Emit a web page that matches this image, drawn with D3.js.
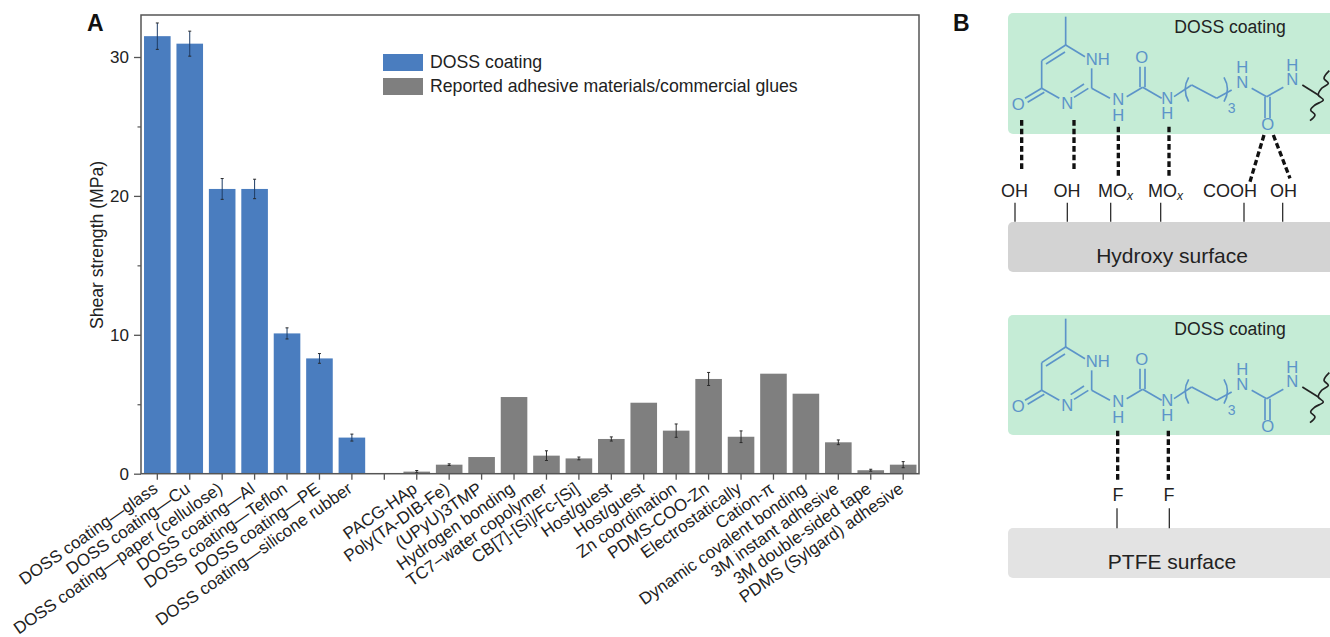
<!DOCTYPE html>
<html><head><meta charset="utf-8">
<script src="https://cdn.jsdelivr.net/npm/d3@7/dist/d3.min.js"></script>
<style>html,body{margin:0;background:#fff}svg{display:block}text{font-family:"Liberation Sans",Arial,sans-serif;fill:#222}</style>
</head><body><svg id="c" width="1330" height="637"></svg>
<script>
const categories = ["DOSS coating—glass","DOSS coating—Cu","DOSS coating—paper (cellulose)","DOSS coating—Al","DOSS coating—Teflon","DOSS coating—PE","DOSS coating—silicone rubber","","PACG-HAp","Poly(TA-DIB-Fe)","(UPyU)3TMP","Hydrogen bonding","TC7−water copolymer","CB[7]-[Si]/Fc-[Si]","Host/guest","Host/guest","Zn coordination","PDMS-COO-Zn","Electrostatically","Cation-π","Dynamic covalent bonding","3M instant adhesive","3M double-sided tape","PDMS (Sylgard) adhesive"];
const values = [31.5,30.96,20.5,20.5,10.1,8.3,2.6,null,0.15,0.65,1.2,5.52,1.3,1.1,2.5,5.11,3.1,6.82,2.66,7.2,5.76,2.26,0.25,0.65];
const errors = [0.95,0.9,0.75,0.7,0.4,0.35,0.25,null,0.08,0.06,0,0,0.35,0.1,0.15,0,0.48,0.47,0.42,0,0,0.17,0.07,0.22];
const doss = [1,1,1,1,1,1,1,0,0,0,0,0,0,0,0,0,0,0,0,0,0,0,0,0];
const yTicksMajor = [0,10,20,30];
const yTicksMinor = [5,15,25];
const legendLabels = ["DOSS coating","Reported adhesive materials/commercial glues"];
const BLUE="#4a7dbf", GRAY="#7f7f7f", AXIS="#555", CHEM="#5c94c9";

const svg=d3.select("#c");
const L=141,R=919,T=15,B=473.7;
const x=d3.scaleBand().domain(d3.range(categories.length)).range([141.1,919.4]).paddingInner(0.18).paddingOuter(0.09);
const y=d3.scaleLinear().domain([0,33]).range([B,B-33*13.89]);

const g=svg.append("g");
const idx=d3.range(categories.length).filter(i=>values[i]!==null);
g.selectAll("rect.bar").data(idx).join("rect").attr("class","bar")
 .attr("x",i=>x(i)).attr("width",x.bandwidth())
 .attr("y",i=>y(values[i])).attr("height",i=>y(0)-y(values[i]))
 .attr("fill",i=>doss[i]?BLUE:GRAY);
const eb=idx.filter(i=>errors[i]>0);
const cx=i=>x(i)+x.bandwidth()/2;
g.selectAll("line.err").data(eb).join("line").attr("x1",cx).attr("x2",cx)
 .attr("y1",i=>y(values[i]-errors[i])).attr("y2",i=>y(values[i]+errors[i]))
 .attr("stroke",i=>doss[i]?"#1d3c66":"#2a2a2a").attr("stroke-width",1);
[-1,1].forEach(s=>g.selectAll("line.cap"+s).data(eb).join("line").attr("class","cap"+s)
 .attr("x1",i=>cx(i)-1.5).attr("x2",i=>cx(i)+1.5)
 .attr("y1",i=>y(values[i]+s*errors[i])).attr("y2",i=>y(values[i]+s*errors[i]))
 .attr("stroke","#2a2a2a").attr("stroke-width",1));

svg.append("rect").attr("x",L).attr("y",T).attr("width",R-L).attr("height",B-T).attr("fill","none").attr("stroke",AXIS).attr("stroke-width",1.5);

const xAxis=d3.axisBottom(x).tickSize(6).tickPadding(4).tickFormat(i=>categories[i]);
const gx=svg.append("g").attr("transform",`translate(0,${B})`).call(xAxis);
gx.select(".domain").remove();
gx.selectAll(".tick line").attr("stroke",AXIS).attr("stroke-width",1.3);
gx.selectAll(".tick text").attr("text-anchor","end").attr("font-size",17).attr("font-family",'"Liberation Sans"')
 .attr("transform","translate(-10,1) rotate(-35)").attr("dy","0.6em");
const yAxis=d3.axisLeft(y).tickValues(yTicksMajor).tickSize(7).tickPadding(5).tickFormat(d3.format("d"));
const gy=svg.append("g").attr("transform",`translate(${L},0)`).call(yAxis);
gy.select(".domain").remove();
gy.selectAll(".tick line").attr("stroke",AXIS).attr("stroke-width",1.3);
gy.selectAll(".tick text").attr("font-size",17).attr("font-family",'"Liberation Sans"');
const gym=svg.append("g").attr("transform",`translate(${L},0)`).call(d3.axisLeft(y).tickValues(yTicksMinor).tickSize(3.5).tickFormat(""));
gym.select(".domain").remove();
gym.selectAll(".tick line").attr("stroke",AXIS).attr("stroke-width",1.2);

svg.append("text").attr("transform","translate(103,245) rotate(-90)").attr("text-anchor","middle").attr("font-size",17.6).text("Shear strength (MPa)");

legendLabels.forEach((t,i)=>{
 svg.append("rect").attr("x",383).attr("y",54+i*24).attr("width",40).attr("height",17).attr("fill",i?GRAY:BLUE);
 svg.append("text").attr("x",430).attr("y",68+i*24).attr("font-size",17.7).text(t);
});
svg.append("text").attr("x",87).attr("y",31).attr("font-size",23).attr("font-weight","bold").style("fill","#111").text("A");
svg.append("text").attr("x",953).attr("y",31).attr("font-size",23).attr("font-weight","bold").style("fill","#111").text("B");

const bonds=[[347,50,347,135],[347,135,405,170],[347,135,275,182],[345,156,288,192],[275,182,275,265],[275,265,328,295],[275,265,225,295],[283,277,233,307],
[372,292,415,265],[362,278,402,252],[425,265,425,205],[425,265,480,295],[530,290,578,262],[570,262,570,200],[585,262,585,200],[578,262,635,295],[672,290,725,255],[725,255,800,295],[800,295,845,270],[905,265,950,290],[950,290,1000,262],[945,290,945,355],[960,290,960,355]];
const atoms=[["NH",443,195],["O",575,190],["O",205,330],["N",352,327],["N",505,315],["H",505,363],["N",652,312],["H",652,358],["N",877,265],["H",877,220],["O",953,391],["N",1027,255],["H",1027,213]];
const wave=[[1138,212],[1122,235],[1135,250],[1115,265],[1105,285],[1120,300],[1095,315],[1082,330],[1095,345],[1080,362]];
const waveLine=d3.line().curve(d3.curveCatmullRom);
function mol(dy){
 const p=svg.append("g").attr("transform",`translate(950,${dy}) scale(${1/3})`);
 p.selectAll("line").data(bonds).join("line").attr("x1",d=>d[0]).attr("y1",d=>d[1]).attr("x2",d=>d[2]).attr("y2",d=>d[3]).attr("stroke",CHEM).attr("stroke-width",5);
 p.selectAll("text.a").data(atoms).join("text").attr("class","a").attr("x",d=>d[1]).attr("y",d=>d[2]).attr("text-anchor","middle").attr("font-size",50).style("fill",CHEM).text(d=>d[0]);
 p.append("path").attr("d","M716,232 Q695,268 716,305").attr("fill","none").attr("stroke",CHEM).attr("stroke-width",5);
 p.append("path").attr("d","M822,232 Q843,268 822,305").attr("fill","none").attr("stroke",CHEM).attr("stroke-width",5);
 p.append("text").attr("x",845).attr("y",338).attr("text-anchor","middle").attr("font-size",42).style("fill",CHEM).text("3");
 p.append("line").attr("x1",1057).attr("y1",255).attr("x2",1105).attr("y2",285).attr("stroke","#222").attr("stroke-width",5);
 p.append("path").attr("d",waveLine(wave)).attr("fill","none").attr("stroke","#222").attr("stroke-width",5);
}
function panel(gTop,gBot,grayTop,grayBot,grayFill,title,titleY){
 svg.append("path").attr("d",`M1330,${gTop}H1013a5,5 0 0 0 -5,5V${gBot-5}a5,5 0 0 0 5,5H1330Z`).attr("fill","#c5ecd6");
 svg.append("path").attr("d",`M1330,${grayTop}H1013a5,5 0 0 0 -5,5V${grayBot-5}a5,5 0 0 0 5,5H1330Z`).attr("fill",grayFill);
 svg.append("text").attr("x",1230).attr("y",titleY).attr("text-anchor","middle").attr("font-size",17.6).text("DOSS coating");
 svg.append("text").attr("x",1172).attr("y",grayTop+41).attr("text-anchor","middle").attr("font-size",21).text(title);
}
panel(13,134,222,272,"#d3d3d3","Hydroxy surface",33);
panel(315,435,528,578,"#e3e3e3","PTFE surface",335);
mol(0);mol(302);
function dashed(coords,dy){const p=svg.append("g").attr("transform",`translate(950,${dy}) scale(${1/3})`);
 p.selectAll("line").data(coords).join("line").attr("x1",d=>d[0]).attr("y1",d=>d[1]).attr("x2",d=>d[2]).attr("y2",d=>d[3]).attr("stroke","#111").attr("stroke-width",10).attr("stroke-dasharray","17 9");}
function stems(coords,dy){const p=svg.append("g").attr("transform",`translate(950,${dy}) scale(${1/3})`);
 p.selectAll("line").data(coords).join("line").attr("x1",d=>d[0]).attr("y1",d=>d[1]).attr("x2",d=>d[0]).attr("y2",d=>d[2]).attr("stroke","#333").attr("stroke-width",4);}
dashed([[215,360,215,512],[372,360,372,512],[505,380,505,532],[657,380,657,532],[942,405,900,545],[970,405,1020,535]],0);
stems([[195,608,665],[352,608,665],[482,608,665],[632,608,665],[882,608,665],[998,608,665]],0);
dashed([[503,392,503,545],[655,392,655,545]],300);
stems([[501,625,685],[658,625,685]],300);
const groups=[["OH",1014.5],["OH",1067],["COOH",1230],["OH",1283.5]];
svg.selectAll("text.gp").data(groups).join("text").attr("class","gp").attr("x",d=>d[1]).attr("y",197).attr("text-anchor","middle").attr("font-size",18).text(d=>d[0]);
[1098,1148].forEach(px=>{const t=svg.append("text").attr("x",px).attr("y",197).attr("font-size",18);t.append("tspan").text("MO");t.append("tspan").attr("dy",3).attr("font-size",12).attr("font-style","italic").text("x");});
[1118,1169].forEach(px=>svg.append("text").attr("x",px).attr("y",501).attr("text-anchor","middle").attr("font-size",18).text("F"));
</script></body></html>
